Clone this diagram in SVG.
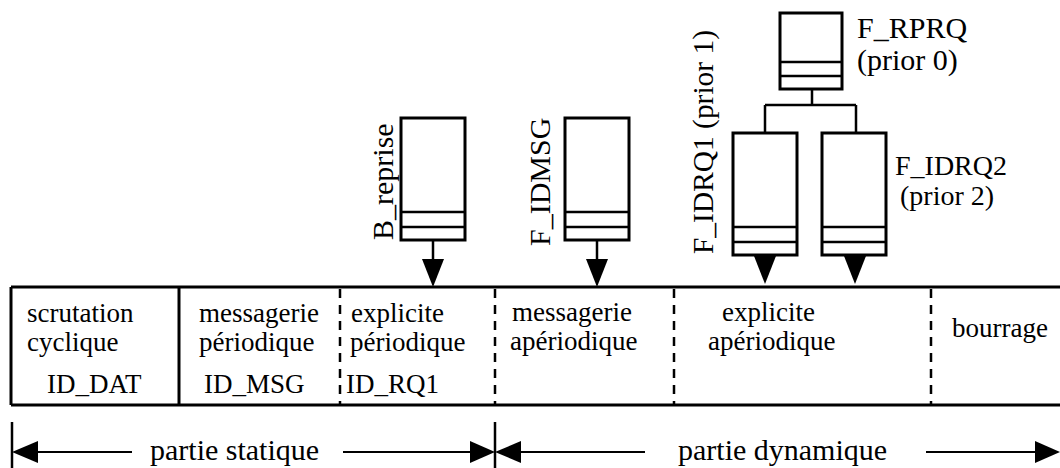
<svg xmlns="http://www.w3.org/2000/svg" width="1060" height="468" viewBox="0 0 1060 468">
<style>
text{font-family:"Liberation Serif","Times New Roman",serif;font-size:30px;fill:#000}
.cell{font-size:27px}
.lbl{font-size:28px}
.box{fill:#fff;stroke:#000;stroke-width:3}
.sep{stroke:#000;stroke-width:2.5}
.band{stroke:#000;stroke-width:3;fill:none}
.dash{stroke:#000;stroke-width:2.5;stroke-dasharray:9 7;fill:none}
.wire{stroke:#000;stroke-width:2.5;fill:none}
.dim{stroke:#000;stroke-width:2;fill:none}
.head{fill:#000;stroke:none}
</style>
<defs>
<g id="qbox">
<rect class="box" x="0" y="0" width="64" height="122"/>
<line class="sep" x1="0" y1="94" x2="64" y2="94"/>
<line class="sep" x1="0" y1="109" x2="64" y2="109"/>
</g>
<path id="downhead" class="head" d="M-11,0 L11,0 L0,28 Z"/>
</defs>

<g id="frame">
<line class="band" x1="11" y1="287" x2="1060" y2="287"/>
<line class="band" x1="11" y1="405" x2="1060" y2="405"/>
<line class="band" x1="11" y1="287" x2="11" y2="405"/>
<line class="band" x1="179" y1="287" x2="179" y2="405"/>
<line class="dash" x1="340" y1="289" x2="340" y2="404"/>
<line class="dash" x1="495" y1="289" x2="495" y2="404"/>
<line class="dash" x1="674" y1="289" x2="674" y2="404"/>
<line class="dash" x1="931" y1="289" x2="931" y2="404"/>
</g>

<g id="cell-scrutation">
<text class="cell" x="27" y="322">scrutation</text>
<text class="cell" x="27" y="351">cyclique</text>
<text class="cell" x="47" y="393">ID_DAT</text>
</g>
<g id="cell-messagerie-periodique">
<text class="cell" x="199" y="322">messagerie</text>
<text class="cell" x="199" y="351">périodique</text>
<text class="cell" x="204" y="393">ID_MSG</text>
</g>
<g id="cell-explicite-periodique">
<text class="cell" x="351" y="322">explicite</text>
<text class="cell" x="350" y="351">périodique</text>
<text class="cell" x="346" y="393">ID_RQ1</text>
</g>
<g id="cell-messagerie-aperiodique">
<text class="cell" x="512" y="321">messagerie</text>
<text class="cell" x="510" y="350">apériodique</text>
</g>
<g id="cell-explicite-aperiodique">
<text class="cell" x="722" y="321">explicite</text>
<text class="cell" x="708" y="350">apériodique</text>
</g>
<g id="cell-bourrage">
<text class="cell" x="952" y="337">bourrage</text>
</g>

<g id="q-breprise">
<use href="#qbox" x="401" y="118"/>
<text transform="translate(393,240) rotate(-90)">B_reprise</text>
</g>
<g id="q-fidmsg">
<use href="#qbox" x="565" y="118"/>
<text transform="translate(550,246) rotate(-90)">F_IDMSG</text>
</g>
<g id="q-frprq">
<rect class="box" x="780" y="13" width="62" height="76"/>
<line class="sep" x1="780" y1="62" x2="842" y2="62"/>
<line class="sep" x1="780" y1="76" x2="842" y2="76"/>
<text x="857" y="38">F_RPRQ</text>
<text x="857" y="70">(prior 0)</text>
</g>
<g id="q-fidrq1">
<use href="#qbox" x="733" y="133"/>
<text transform="translate(713,254) rotate(-90)" textLength="224" lengthAdjust="spacingAndGlyphs">F_IDRQ1 (prior 1)</text>
</g>
<g id="q-fidrq2">
<use href="#qbox" x="822" y="133"/>
<text class="lbl" x="895" y="175">F_IDRQ2</text>
<text class="lbl" x="900" y="205">(prior 2)</text>
</g>

<g id="connectors">
<path class="wire" d="M812,89 V105 M765,105 H856 M765,105 V133 M856,105 V133"/>
<line class="wire" x1="433" y1="240" x2="433" y2="262"/>
<use href="#downhead" x="433" y="259"/>
<line class="wire" x1="597" y1="240" x2="597" y2="262"/>
<use href="#downhead" x="597" y="259"/>
<use href="#downhead" x="765" y="256"/>
<use href="#downhead" x="855" y="256"/>
</g>

<g id="dimensions">
<line class="dim" x1="12" y1="422" x2="12" y2="468" style="stroke-width:2.5"/>
<line class="dim" x1="495" y1="422" x2="495" y2="468" style="stroke-width:2.5"/>
<line class="dim" x1="36" y1="452" x2="132" y2="452"/>
<path class="head" d="M12,452 L38,441 L38,463 Z"/>
<text x="150" y="460">partie statique</text>
<line class="dim" x1="343" y1="452" x2="472" y2="452"/>
<path class="head" d="M495,452 L470,441 L470,463 Z"/>
<path class="head" d="M495,452 L521,441 L521,463 Z"/>
<line class="dim" x1="519" y1="452" x2="645" y2="452"/>
<text x="678" y="460">partie dynamique</text>
<line class="dim" x1="926" y1="452" x2="1038" y2="452"/>
<path class="head" d="M1060,452 L1035,441 L1035,463 Z"/>
</g>
</svg>
